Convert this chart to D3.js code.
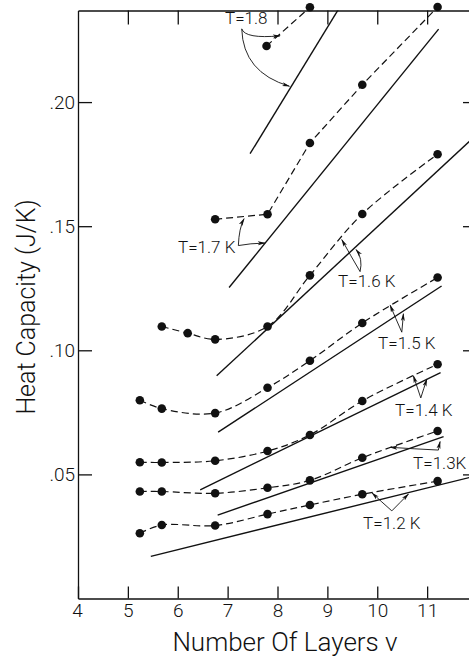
<!DOCTYPE html>
<html lang="en">
<head>
<meta charset="UTF-8">
<title>Heat Capacity vs Number Of Layers</title>
<script src="https://d3js.org/d3.v7.min.js"></script>
<style>
    body { margin: 0; background: #fff; }
    text { font-family: Roboto, "DejaVu Sans", sans-serif; font-weight: 300; fill: #111; }
</style>
</head>
<body>
<svg id="chart"></svg>
<script>

    // layer numbers where the heat capacity was measured
    var layers = [5.24, 5.68, 6.75, 7.8, 8.65, 9.7, 11.21];
    var layers16 = [5.68, 6.2, 6.75, 7.8, 8.65, 9.7, 11.21];
    var layers17 = [6.75, 7.8, 8.65, 9.7, 11.21];
    var layers18 = [7.78, 8.65];

    // measured heat capacity (J/K), one array per temperature
    var c12 = [0.0263, 0.0296, 0.0294, 0.0340, 0.0377, 0.0420, 0.0473];
    var c13 = [0.0431, 0.0431, 0.0424, 0.0446, 0.0476, 0.0567, 0.0675];
    var c14 = [0.0549, 0.0548, 0.0555, 0.0594, 0.0659, 0.0796, 0.0944];
    var c15 = [0.0799, 0.0765, 0.0747, 0.0849, 0.0958, 0.1110, 0.1293];
    var c16 = [0.1096, 0.1069, 0.1044, 0.1096, 0.1302, 0.1549, 0.1790];
    var c17 = [0.1528, 0.1548, 0.1835, 0.2070, 0.2383];
    var c18 = [0.2226, 0.2382];

    // straight (theory) lines: [layers, heat capacity] at both ends
    var theoryStart = [[5.46, 0.0170], [6.80, 0.0336], [6.45, 0.0438], [6.81, 0.0670], [6.78, 0.0897], [7.03, 0.1253], [7.45, 0.1792]];
    var theoryEnd = [[12, 0.0495], [11.33, 0.0652], [11.27, 0.0910], [11.29, 0.1259], [12, 0.187], [11.23, 0.2294], [9.25, 0.2383]];

    // labels with their arrows, in data units
    var labelText = ["T=1.8", "T=1.7 K", "T=1.6 K", "T=1.5 K", "T=1.4 K", "T=1.3K", "T=1.2 K"];
    var labelPos = [[6.948, 0.2315], [6.006, 0.1392], [9.215, 0.1256], [10.017, 0.1005], [10.358, 0.0734], [10.719, 0.0523], [9.716, 0.0279]];
    // each arrow: from, control, to
    var arrows = [
        [[7.283, 0.2295], [7.35, 0.2254], [8.051, 0.2267]],
        [[7.283, 0.2295], [7.31, 0.2119], [8.238, 0.2064]],
        [[7.215, 0.1422], [7.229, 0.1492], [7.329, 0.1530]],
        [[7.215, 0.1422], [7.45, 0.1431], [7.750, 0.1432]],
        [[9.656, 0.1317], [9.47, 0.1380], [9.289, 0.1446]],
        [[9.656, 0.1317], [9.716, 0.1370], [9.576, 0.1406]],
        [[10.492, 0.1073], [10.37, 0.1128], [10.258, 0.1182]],
        [[10.492, 0.1073], [10.51, 0.1110], [10.524, 0.1147]],
        [[10.873, 0.0808], [10.80, 0.0852], [10.725, 0.0897]],
        [[10.873, 0.0808], [10.93, 0.0845], [10.994, 0.0883]],
        [[11.226, 0.0598], [10.74, 0.0603], [10.258, 0.0609]],
        [[11.226, 0.0598], [11.24, 0.0615], [11.260, 0.0632]],
        [[10.292, 0.0353], [10.09, 0.0389], [9.897, 0.0425]],
        [[10.292, 0.0353], [10.46, 0.0387], [10.625, 0.0421]]
    ];

    var xTicks = [4, 5, 6, 7, 8, 9, 10, 11];
    var xTopTicks = [5, 6, 8, 9, 10, 11];
    var yTicks = [0.05, 0.10, 0.15, 0.20];

    // smooth curves for the low temperatures, broken lines for 1.7 and 1.8 K
    var series = [
        {x: layers, c: c12, smooth: true},
        {x: layers, c: c13, smooth: true},
        {x: layers, c: c14, smooth: true},
        {x: layers, c: c15, smooth: true},
        {x: layers16, c: c16, smooth: true},
        {x: layers17, c: c17, smooth: false},
        {x: layers18, c: c18, smooth: false}
    ].map(function (s) {
        var pts = s.x.map(function (v, i) { return [v, s.c[i]]; });
        pts.smooth = s.smooth;
        return pts;
    });

    var width = 469, height = 656;

    var svg = d3.select("#chart")
            .attr("width", width)
            .attr("height", height);

    var x = d3.scaleLinear().domain([4, 12]).range([78, 477]);
    var y = d3.scaleLinear().domain([0, 0.2369]).range([598.5, 10.5]);

    var defs = svg.append("defs");
    defs.append("clipPath").attr("id", "plotClip")
            .append("rect")
            .attr("x", x(4)).attr("y", y(0.2369))
            .attr("width", x(12) - x(4)).attr("height", y(0) - y(0.2369));

    defs.append("marker")
            .attr("id", "head")
            .attr("viewBox", "0 0 10 6")
            .attr("refX", 9).attr("refY", 3)
            .attr("markerWidth", 8).attr("markerHeight", 5)
            .attr("markerUnits", "userSpaceOnUse")
            .attr("orient", "auto")
            .append("path")
            .attr("d", "M0,0.5 L10,3 L0,5.5 L2.5,3 Z")
            .attr("fill", "#111");

    var fmt = function (d) { return d3.format(".2f")(d).slice(1); };

    // ---------- axes, ticks all point into the plot ----------
    var leftAxis = svg.append("g")
            .attr("transform", "translate(" + x(4) + ",0)")
            .call(d3.axisLeft(y).tickValues(yTicks).tickSizeInner(-14).tickSizeOuter(0)
                    .tickPadding(3).tickFormat(fmt));

    var bottomAxis = svg.append("g")
            .attr("transform", "translate(0," + y(0) + ")")
            .call(d3.axisBottom(x).tickValues(xTicks).tickSizeInner(-12).tickSizeOuter(0)
                    .tickPadding(5));

    var topAxis = svg.append("g")
            .attr("transform", "translate(0," + y(0.2369) + ")")
            .call(d3.axisTop(x).tickValues(xTopTicks).tickSizeInner(-14).tickSizeOuter(0)
                    .tickFormat(""));

    var rightAxis = svg.append("g")
            .attr("transform", "translate(" + x(12) + ",0)")
            .call(d3.axisRight(y).tickValues(yTicks).tickSizeInner(-14).tickSizeOuter(0)
                    .tickFormat(""));

    [leftAxis, bottomAxis, topAxis, rightAxis].forEach(function (g) {
        g.selectAll("path, line").attr("stroke", "#111").attr("stroke-width", 1.3);
        g.selectAll("text")
                .style("font-family", "Roboto, 'DejaVu Sans', sans-serif")
                .style("font-weight", 300)
                .style("font-size", "19px")
                .attr("fill", "#111");
    });
    bottomAxis.select(".tick text").attr("dx", -1);

    // ---------- axis titles ----------
    svg.append("text")
            .attr("transform", "translate(35," + 307 + ") rotate(-90)")
            .attr("text-anchor", "middle")
            .style("font-size", "25px")
            .text("Heat Capacity (J/K)");

    svg.append("text")
            .attr("x", 285).attr("y", 651)
            .attr("text-anchor", "middle")
            .style("font-size", "26px")
            .text("Number Of Layers \u03bd");

    var plot = svg.append("g");

    // ---------- straight lines ----------
    plot.append("g").attr("clip-path", "url(#plotClip)")
            .selectAll("line")
            .data(theoryStart)
            .enter().append("line")
            .attr("x1", function (d) { return x(d[0]); })
            .attr("y1", function (d) { return y(d[1]); })
            .attr("x2", function (d, i) { return x(theoryEnd[i][0]); })
            .attr("y2", function (d, i) { return y(theoryEnd[i][1]); })
            .attr("stroke", "#111")
            .attr("stroke-width", 1.4);

    // ---------- dashed curves through the measured points ----------
    var smoothLine = d3.line()
            .x(function (d) { return x(d[0]); })
            .y(function (d) { return y(d[1]); })
            .curve(d3.curveCatmullRom.alpha(0.5));
    var brokenLine = d3.line()
            .x(function (d) { return x(d[0]); })
            .y(function (d) { return y(d[1]); });

    plot.append("g")
            .selectAll("path")
            .data(series)
            .enter().append("path")
            .attr("d", function (d) { return d.smooth ? smoothLine(d) : brokenLine(d); })
            .attr("fill", "none")
            .attr("stroke", "#111")
            .attr("stroke-width", 1.2)
            .attr("stroke-dasharray", "7,4");

    plot.append("g")
            .selectAll("g")
            .data(series)
            .enter().append("g")
            .selectAll("circle")
            .data(function (d) { return d; })
            .enter().append("circle")
            .attr("cx", function (d) { return x(d[0]); })
            .attr("cy", function (d) { return y(d[1]); })
            .attr("r", 4.3)
            .attr("fill", "#111");

    // ---------- labels and arrows ----------
    plot.append("g")
            .selectAll("path")
            .data(arrows)
            .enter().append("path")
            .attr("d", function (d) {
                return "M" + x(d[0][0]) + "," + y(d[0][1]) +
                        "Q" + x(d[1][0]) + "," + y(d[1][1]) +
                        " " + x(d[2][0]) + "," + y(d[2][1]);
            })
            .attr("fill", "none")
            .attr("stroke", "#111")
            .attr("stroke-width", 0.9)
            .attr("marker-end", "url(#head)");

    plot.append("g")
            .selectAll("text")
            .data(labelText)
            .enter().append("text")
            .attr("x", function (d, i) { return x(labelPos[i][0]); })
            .attr("y", function (d, i) { return y(labelPos[i][1]); })
            .style("font-size", "17px")
            .text(function (d) { return d; });

</script>
</body>
</html>
